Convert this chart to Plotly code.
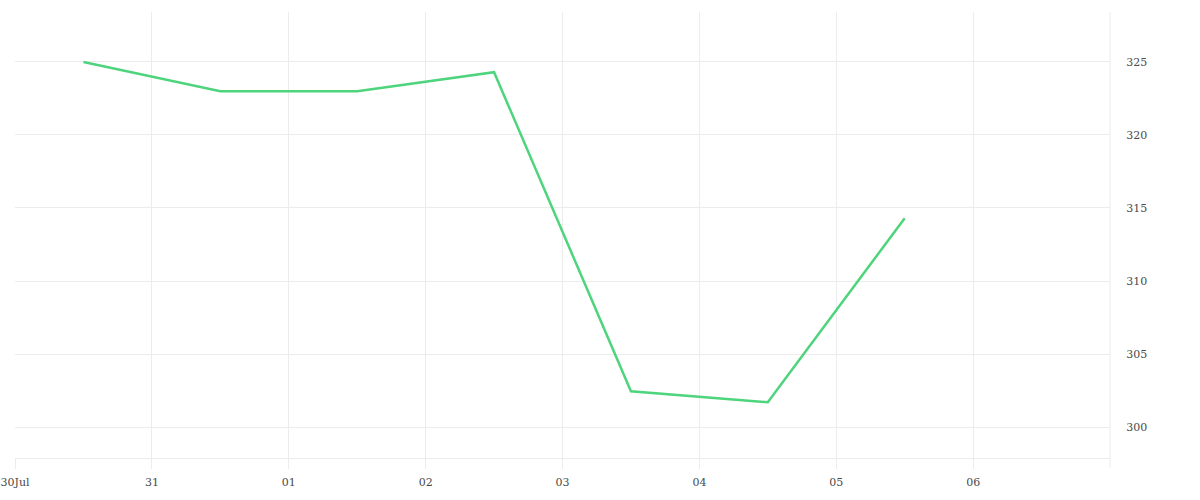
import plotly.graph_objects as go

dates = ["2024-07-30 12:00", "2024-07-31 12:00", "2024-08-01 12:00", "2024-08-02 12:00",
         "2024-08-03 12:00", "2024-08-04 12:00", "2024-08-05 12:00"]
values = [325.0, 323.0, 323.0, 324.3, 302.45, 301.7, 314.3]

tick_dates = ["2024-07-30", "2024-07-31", "2024-08-01", "2024-08-02", "2024-08-03",
              "2024-08-04", "2024-08-05", "2024-08-06"]
tick_labels = ["30Jul", "31", "01", "02", "03", "04", "05", "06"]
y_ticks = [300, 305, 310, 315, 320, 325]

grid = "#ececec"
font = dict(family="DejaVu Serif", size=11, color="#4a4a4a")

fig = go.Figure()
fig.add_trace(go.Scatter(x=dates, y=values, mode="lines",
                         line=dict(color="#4ed47c", width=2.5), hoverinfo="skip"))

fig.update_layout(
    width=1200, height=500,
    margin=dict(l=15, r=90, t=12, b=42),
    paper_bgcolor="white", plot_bgcolor="white",
    showlegend=False,
    font=font,
    xaxis=dict(
        range=["2024-07-30", "2024-08-07"],
        tickvals=tick_dates, ticktext=tick_labels,
        showgrid=True, gridcolor=grid, gridwidth=1,
        ticks="outside", ticklen=10, tickcolor=grid, tickwidth=1,
        showline=True, linecolor=grid, linewidth=1,
        zeroline=False, tickfont=font, automargin=False,
        ticklabeloverflow="allow", ticklabelstandoff=4,
    ),
    yaxis=dict(
        side="right", range=[297.88, 328.42],
        tickvals=y_ticks,
        showgrid=True, gridcolor=grid, gridwidth=1,
        ticks="outside", ticklen=13, tickcolor="rgba(0,0,0,0)",
        showline=False, zeroline=False, tickfont=font, automargin=False,
        ticklabeloverflow="allow",
    ),
    shapes=[dict(type="line", xref="paper", yref="paper", x0=1, x1=1, y0=-0.022, y1=1,
                 line=dict(color=grid, width=1))],
)

fig.write_html("out.html",
               config={"displayModeBar": False},
               post_script="document.body.style.margin='0';document.body.style.padding='0';")
